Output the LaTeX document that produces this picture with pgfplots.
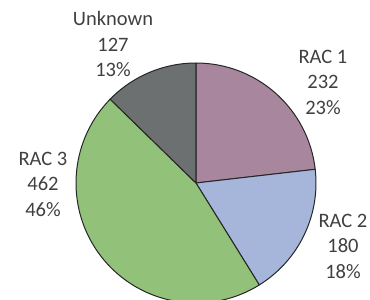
\documentclass[border=0pt]{standalone}
\usepackage{pgfplots}
\pgfplotsset{compat=1.18}
\usepackage{fontspec}
\setmainfont{Carlito}
\definecolor{racA}{HTML}{A8879E}
\definecolor{racB}{HTML}{A5B6DA}
\definecolor{racC}{HTML}{92C27A}
\definecolor{unk}{HTML}{6C7070}
\definecolor{edge}{HTML}{262626}
\definecolor{txt}{HTML}{404040}
% data
\def\vA{232}\def\vB{180}\def\vC{462}\def\vD{127}
\pgfmathsetmacro\tot{\vA+\vB+\vC+\vD}
\pgfmathsetmacro\aA{90}
\pgfmathsetmacro\aB{\aA-\vA/\tot*360}
\pgfmathsetmacro\aC{\aB-\vB/\tot*360}
\pgfmathsetmacro\aD{\aC-\vC/\tot*360}
\pgfmathsetmacro\aE{\aD-\vD/\tot*360}
\def\cx{196}\def\cy{117}\def\rr{120}
\newcommand{\pieslice}[3]{%
  \fill[#3,draw=edge,line width=1bp,line join=round] (axis cs:\cx,\cy) -- (axis cs:{\cx+\rr*cos(#1)},{\cy+\rr*sin(#1)})
    arc[start angle=#1,end angle=#2,radius=\rr bp] -- cycle;}
\begin{document}
\begin{tikzpicture}
\begin{axis}[hide axis, scale only axis, width=370bp, height=300bp,
  xmin=0, xmax=370, ymin=0, ymax=300, clip=true]
\pieslice{\aA}{\aB}{racA}
\pieslice{\aB}{\aC}{racB}
\pieslice{\aC}{\aD}{racC}
\pieslice{\aD}{\aE}{unk}
\tikzset{lab/.style={align=center,text=txt,font=\fontsize{20.5bp}{25.5bp}\selectfont}}
\node[lab] at (axis cs:113,256) {Unknown\\127\\13\%};
\node[lab] at (axis cs:323,218) {RAC 1\\232\\23\%};
\node[lab] at (axis cs:343,54) {RAC 2\\180\\18\%};
\node[lab] at (axis cs:43,116) {RAC 3\\462\\46\%};
\end{axis}
\pgfresetboundingbox
\path[use as bounding box] (0,0) rectangle (370bp,300bp);
\end{tikzpicture}
\end{document}
